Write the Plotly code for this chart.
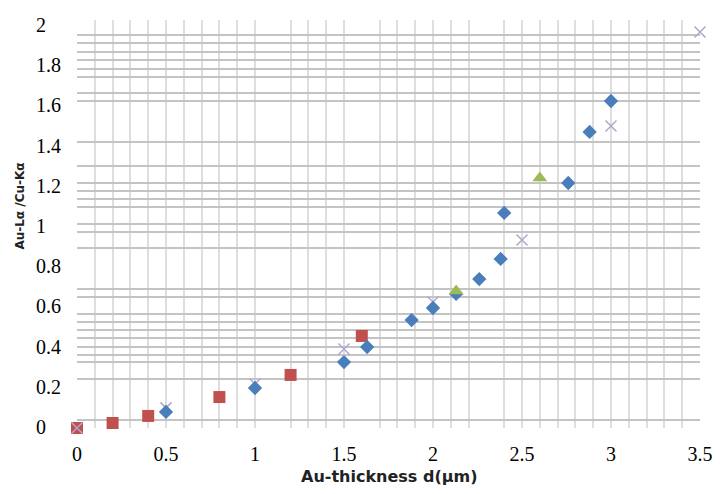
import plotly.graph_objects as go

# ---- data ----
diamond_x = [0.50, 1.00, 1.50, 1.63, 1.88, 2.00, 2.13, 2.26, 2.38, 2.40, 2.76, 2.88, 3.00]
diamond_y = [0.075, 0.194, 0.323, 0.398, 0.532, 0.592, 0.662, 0.736, 0.836, 1.065, 1.214, 1.468, 1.622]

square_x = [0.0, 0.2, 0.4, 0.8, 1.2, 1.6]
square_y = [-0.005, 0.020, 0.055, 0.149, 0.259, 0.453]

triangle_x = [2.13, 2.60]
triangle_y = [0.677, 1.239]

cross_x = [0.0, 0.5, 1.0, 1.5, 2.0, 2.5, 3.0, 3.5]
cross_y = [-0.005, 0.095, 0.214, 0.388, 0.622, 0.930, 1.498, 1.965]

# tick labels
x_ticks = [0, 0.5, 1, 1.5, 2, 2.5, 3, 3.5]
x_tick_text = ["0", "0.5", "1", "1.5", "2", "2.5", "3", "3.5"]
y_ticks = [0, 0.2, 0.4, 0.6, 0.8, 1.0, 1.2, 1.4, 1.6, 1.8, 2.0]
y_tick_text = ["0", "0.2", "0.4", "0.6", "0.8", "1", "1.2", "1.4", "1.6", "1.8", "2"]

# gridline positions (irregular in the reference)
grid_x = [0.0, 0.1, 0.2, 0.3, 0.4, 0.5, 0.6, 0.7, 0.8, 0.9, 1.0, 1.2, 1.3, 1.4, 1.5,
          1.7, 1.8, 1.9, 2.0, 2.1, 2.2, 2.4, 2.5, 2.6, 2.7, 2.8, 2.9, 3.0, 3.1,
          3.2, 3.3, 3.4]
grid_y = [1.950, 1.910, 1.866, 1.826, 1.781, 1.739, 1.662, 1.622, 1.418, 1.299,
          1.214, 1.174, 1.134, 1.095, 1.010, 0.970, 0.891, 0.687, 0.647, 0.562,
          0.522, 0.483, 0.443, 0.398, 0.358, 0.323, 0.239, 0.035]

fig = go.Figure()
fig.add_trace(go.Scatter(x=square_x, y=square_y, mode="markers", cliponaxis=False,
                         marker=dict(symbol="square", size=12, color="#C0504D")))
fig.add_trace(go.Scatter(x=cross_x, y=cross_y, mode="markers", cliponaxis=False,
                         marker=dict(symbol="x-thin-open", size=11, color="#B4A5CF",
                                     line=dict(color="#B4A5CF", width=1.5))))
fig.add_trace(go.Scatter(x=diamond_x, y=diamond_y, mode="markers", cliponaxis=False,
                         marker=dict(symbol="diamond", size=11, color="#4A7EBB")))
fig.add_trace(go.Scatter(x=triangle_x, y=triangle_y, mode="markers", cliponaxis=False,
                         marker=dict(symbol="triangle-up", size=13, color="#9BBB59")))

serif = "Liberation Serif, Times New Roman, serif"

annotations = []
for v, t in zip(y_ticks, y_tick_text):
    annotations.append(dict(x=-0.069, xref="paper", y=v, yref="y", text=t,
                            showarrow=False, xanchor="left", yanchor="middle",
                            font=dict(family=serif, size=20, color="#000000")))
annotations.append(dict(x=-0.092, xref="paper", y=1.10, yref="y",
                        text="<b>Au-Lα /Cu-Kα</b>", textangle=-90, showarrow=False,
                        xanchor="center", yanchor="middle",
                        font=dict(family="DejaVu Sans, sans-serif", size=12,
                                  color="#222222")))
annotations.append(dict(x=0.50, xref="paper", y=-0.118, yref="paper",
                        text="<b>Au-thickness d(μm)</b>", showarrow=False,
                        xanchor="center", yanchor="middle",
                        font=dict(family="DejaVu Sans, sans-serif", size=16,
                                  color="#222222")))

fig.update_layout(
    width=725, height=494,
    margin=dict(l=77, r=13, t=20, b=66),
    paper_bgcolor="white", plot_bgcolor="white",
    showlegend=False,
    annotations=annotations,
    xaxis=dict(range=[0, 3.5], tickvals=x_ticks, ticktext=x_tick_text,
               showgrid=False, zeroline=False, showline=False, ticks="",
               ticklabelstandoff=12,
               tickfont=dict(family=serif, size=20, color="#000000"),
               minor=dict(tickvals=grid_x, showgrid=True, gridcolor="#DEDEDE",
                          gridwidth=2, ticks="")),
    yaxis=dict(range=[-0.005, 2.025], tickvals=grid_y, showticklabels=False,
               showgrid=True, gridcolor="#C4C4C4", gridwidth=1.5,
               zeroline=False, showline=False, ticks=""),
)

fig.write_html("out.html")
